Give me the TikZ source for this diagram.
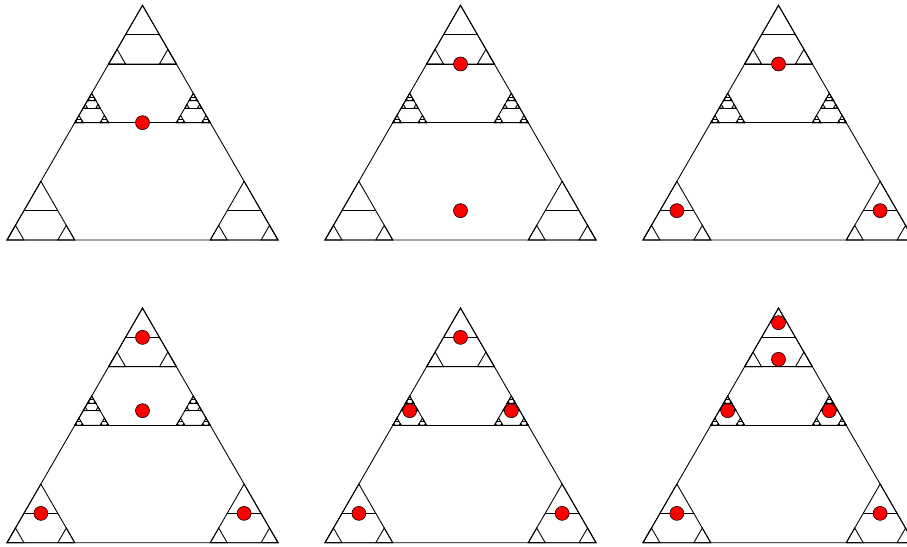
\documentclass[tikz,border=0pt]{standalone}
\def\hh{0.8660254}
% triangle of side 1, base from (0,0) to (1,0)
\newcommand{\tripiece}{\draw (0,0) -- (1,0) -- (0.5,\hh) -- cycle;}
\newcommand{\apiece}{%
  \tripiece
  \draw (0.25,\hh/2) -- (0.75,\hh/2);
  \begin{scope}[scale=0.25] \tripiece \end{scope}
  \begin{scope}[shift={(0.75,0)},scale=0.25] \tripiece \end{scope}
}
% #1 fills the two small corners of the top half
\newcommand{\fpiece}[1]{%
  \tripiece
  \draw (0.25,\hh/2) -- (0.75,\hh/2);
  \draw (0.375,3*\hh/4) -- (0.625,3*\hh/4);
  \begin{scope}[shift={(0.375,3*\hh/4)},scale=0.25] \apiece \end{scope}
  \begin{scope}[shift={(0.25,\hh/2)},scale=0.125] #1 \end{scope}
  \begin{scope}[shift={(0.625,\hh/2)},scale=0.125] #1 \end{scope}
  \begin{scope}[scale=0.25] \apiece \end{scope}
  \begin{scope}[shift={(0.75,0)},scale=0.25] \apiece \end{scope}
}
\newcommand{\gasket}{\fpiece{\fpiece{\tripiece}}}
\begin{document}
\begin{tikzpicture}[x=0.03cm,y=0.03cm,line width=0.75pt,
  dot/.style={circle,draw=black,fill=red,inner sep=0pt,minimum size=0.42cm,line width=0.5pt}]
\useasboundingbox (0,0) rectangle (907,546);
		% top row
		\begin{scope}[shift={(7,306)},scale=271]
			\gasket
			\node[dot] (a1) at (0.5,\hh/2) {};
		\end{scope}
		\begin{scope}[shift={(325,306)},scale=271]
			\gasket
			\node[dot] (b1) at (0.5,3*\hh/4) {};
			\node[dot] (b2) at (0.5,\hh/8) {};
		\end{scope}
		\begin{scope}[shift={(643,306)},scale=271]
			\gasket
			\node[dot] (c1) at (0.5,3*\hh/4) {};
			\node[dot] (c2) at (0.125,\hh/8) {};
			\node[dot] (c3) at (0.875,\hh/8) {};
		\end{scope}
		% bottom row
		\begin{scope}[shift={(7,3.3)},scale=271]
			\gasket
			\node[dot] (d1) at (0.5,7*\hh/8) {};
			\node[dot] (d2) at (0.5,9*\hh/16) {};
			\node[dot] (d3) at (0.125,\hh/8) {};
			\node[dot] (d4) at (0.875,\hh/8) {};
		\end{scope}
		\begin{scope}[shift={(325,3.3)},scale=271]
			\gasket
			\node[dot] (e1) at (0.5,7*\hh/8) {};
			\node[dot] (e2) at (0.3125,9*\hh/16) {};
			\node[dot] (e3) at (0.6875,9*\hh/16) {};
			\node[dot] (e4) at (0.125,\hh/8) {};
			\node[dot] (e5) at (0.875,\hh/8) {};
		\end{scope}
		\begin{scope}[shift={(643,3.3)},scale=271]
			\gasket
			\node[dot] (f1) at (0.5,15*\hh/16) {};
			\node[dot] (f2) at (0.5,25*\hh/32) {};
			\node[dot] (f3) at (0.3125,9*\hh/16) {};
			\node[dot] (f4) at (0.6875,9*\hh/16) {};
			\node[dot] (f5) at (0.125,\hh/8) {};
			\node[dot] (f6) at (0.875,\hh/8) {};
		\end{scope}
\end{tikzpicture}
\end{document}
